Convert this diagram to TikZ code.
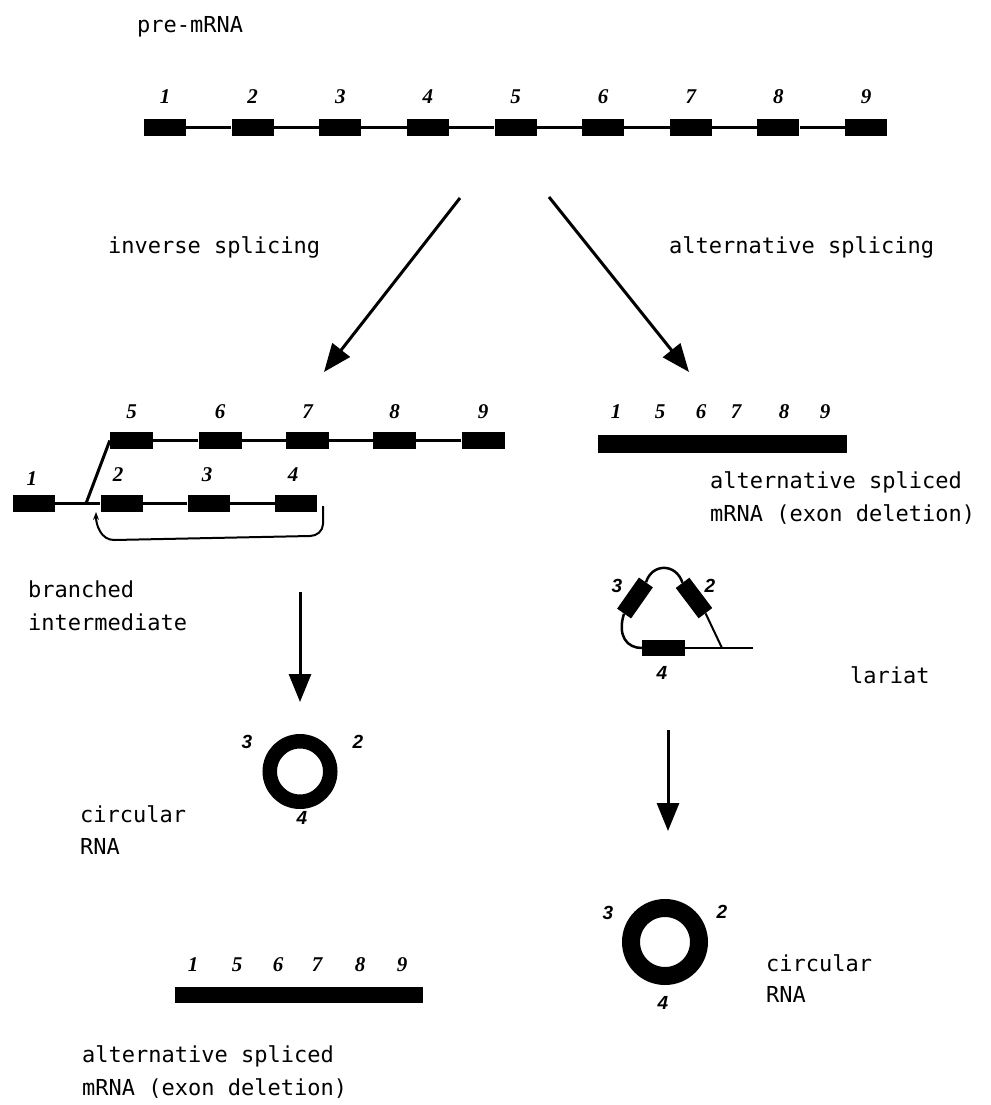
\documentclass[tikz,border=0pt]{standalone}
\usepackage{fontspec}
\usetikzlibrary{arrows.meta}
\newfontfamily\labfont{DejaVu Sans Mono}
\newfontfamily\numfont{Liberation Serif}
\newfontfamily\ringfont{Liberation Sans}
\begin{document}
\begin{tikzpicture}[x=1pt,y=-1pt,
  exon/.style={fill=black, rectangle, inner sep=0pt, minimum width=42pt, minimum height=17pt},
  intron/.style={line width=3pt},
  thinline/.style={line width=2pt},
  num/.style={font=\numfont\bfseries\itshape\fontsize{21}{21}\selectfont, anchor=base, inner sep=0pt},
  rnum/.style={font=\ringfont\bfseries\itshape\fontsize{19}{19}\selectfont, inner sep=0pt},
  lab/.style={font=\labfont\fontsize{22}{22}\selectfont, anchor=base west, inner sep=0pt},
  bar/.style={fill=black, rectangle, inner sep=0pt},
  flow/.style={line width=3pt, -{Triangle[length=28pt,width=22pt]}},
  ring/.style={circle, draw=black, inner sep=0pt},
]
\useasboundingbox (0,0) rectangle (990,1105);

% ---------- pre-mRNA ----------
\node[lab] (tPre) at (137,33) {pre-mRNA};
\foreach \i in {1,...,9} {
  \node[exon] (p\i) at ({165+(\i-1)*87.625},127.5) {};
  \node[num] (np\i) at ({165+(\i-1)*87.625},104) {\i};
}
\foreach \a/\b in {1/2,2/3,3/4,4/5,5/6,6/7,7/8,8/9}
  \draw[intron] (p\a.east) -- (p\b.west);

% ---------- the two pathways ----------
\coordinate (sL) at (460,198);
\coordinate (eL) at (324,372);
\coordinate (sR) at (549,197);
\coordinate (eR) at (689,372);
\draw[flow] (sL) -- (eL);
\draw[flow] (sR) -- (eR);
\node[lab] (tInv) at (108,253) {inverse splicing};
\node[lab] (tAlt) at (669,253) {alternative splicing};

% ---------- branched intermediate ----------
\foreach \n/\x in {5/131.5,6/220,7/307.5,8/394.5,9/483} {
  \node[exon, minimum width=43pt] (t\n) at (\x,440.5) {};
  \node[num] (nt\n) at (\x,418) {\n};
}
\foreach \a/\b in {5/6,6/7,7/8,8/9}
  \draw[intron] (t\a.east) -- (t\b.west);
\foreach \n/\x in {1/33.5,2/121.5,3/208.5,4/296} {
  \node[exon, minimum width=42pt] (b\n) at (\x,503.5) {};
}
\node[num] (nb1) at (32,485) {1};
\node[num] (nb2) at (118,481) {2};
\node[num] (nb3) at (207,481) {3};
\node[num] (nb4) at (293,481) {4};
\foreach \a/\b in {1/2,2/3,3/4}
  \draw[intron] (b\a.east) -- (b\b.west);
\coordinate (bpB) at (86,503.5);
\draw[intron] (bpB) -- (t5.west);
\coordinate (cs) at (323,506);
\coordinate (ce) at (96,512);
\draw[thinline, -{Stealth[length=8pt,width=6pt]}]
  (cs) -- (323,524) to[out=-90,in=0] (310,536) -- (114,540) to[out=180,in=-90] (ce);
\node[lab] (tBr1) at (28,597) {branched};
\node[lab] (tBr2) at (28,630) {intermediate};

% ---------- circular RNA (left) ----------
\coordinate (dL0) at (300,592);
\coordinate (dL1) at (300,702);
\draw[flow] (dL0) -- (dL1);
\node[ring, line width=14.5pt, minimum size=60.5pt] (cL) at (300,771.5) {};
\node[rnum] (cL3) at (247,742) {3};
\node[rnum] (cL2) at (358,742) {2};
\node[rnum] (cL4) at (302,818) {4};
\node[lab] (tCL1) at (80,822) {circular};
\node[lab] (tCL2) at (80,854) {RNA};

% ---------- alternative spliced mRNA (bottom left) ----------
\node[bar, minimum width=248pt, minimum height=16pt] (barL) at (299,995) {};
\foreach \n/\x in {1/193,5/237,6/278,7/317,8/360,9/402}
  \node[num] (nl\n) at (\x,971) {\n};
\node[lab] (tAL1) at (82,1062) {alternative spliced};
\node[lab] (tAL2) at (82,1095) {mRNA (exon deletion)};

% ---------- alternative spliced mRNA (right) ----------
\node[bar, minimum width=249pt, minimum height=18pt] (barR) at (722.5,444) {};
\foreach \n/\x in {1/616,5/660,6/701,7/736,8/784,9/825}
  \node[num] (nr\n) at (\x,418) {\n};
\node[lab] (tAR1) at (710,488) {alternative spliced};
\node[lab] (tAR2) at (710,521) {mRNA (exon deletion)};

% ---------- lariat ----------
\node[exon, minimum width=43pt, minimum height=16pt] (l4) at (663.5,648) {};
\node[exon, minimum width=38pt, rotate=-53] (l2) at (694,598) {};
\node[exon, minimum width=38pt, rotate=55] (l3) at (635,598) {};
\coordinate (tail) at (753,648);
\coordinate (bpL) at (722,648);
\draw[thinline] (l4.east) -- (tail);
\draw[thinline] (bpL) -- (l2.east);
\draw[line width=2.5pt] (l3.east) .. controls (652,563) and (676,563) .. (l2.west);
\draw[line width=2.5pt] (l3.west) .. controls (617,636) and (627,648) .. (l4.west);
\node[rnum] (ll3) at (617,586) {3};
\node[rnum] (ll2) at (710,586) {2};
\node[rnum] (ll4) at (662,673) {4};
\node[lab] (tLar) at (850,683) {lariat};

% ---------- circular RNA (right) ----------
\coordinate (dR0) at (668,730);
\coordinate (dR1) at (668,831);
\draw[flow] (dR0) -- (dR1);
\node[ring, line width=18pt, minimum size=68pt] (cR) at (665,942) {};
\node[rnum] (cR3) at (608,913) {3};
\node[rnum] (cR2) at (722,912) {2};
\node[rnum] (cR4) at (663,1003) {4};
\node[lab] (tCR1) at (766,971) {circular};
\node[lab] (tCR2) at (766,1002) {RNA};
\end{tikzpicture}
\end{document}
